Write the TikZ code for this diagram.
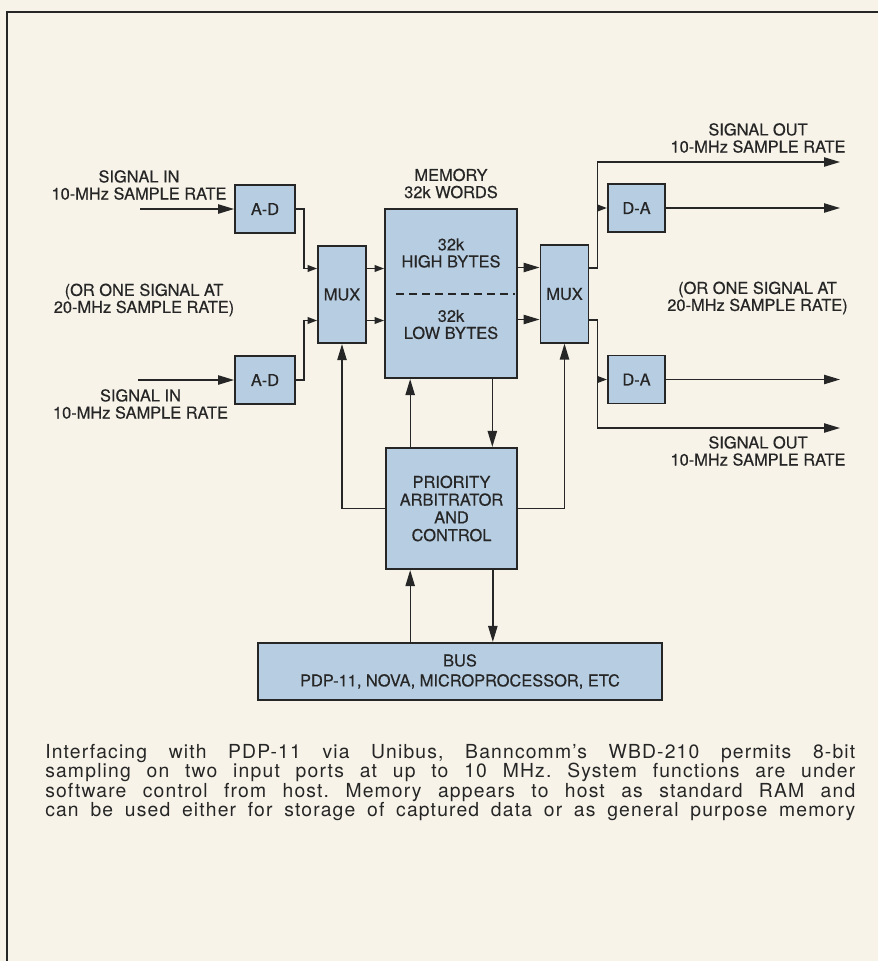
\documentclass[tikz,border=0pt]{standalone}
\usepackage{fontspec}
\setmainfont{TeX Gyre Heros}
\newfontfamily\labfont[FakeBold=0.4]{TeX Gyre Heros}
\newfontfamily\capfont[LetterSpace=6]{TeX Gyre Heros}
\usetikzlibrary{arrows.meta, positioning}
\definecolor{paper}{RGB}{247,243,233}
\definecolor{boxblue}{RGB}{183,205,226}
\definecolor{ink}{RGB}{38,38,38}

\begin{document}
\begin{tikzpicture}[x=0.75pt, y=-0.75pt,
		base/.style = {draw=ink, fill=boxblue, line width=1.4pt, inner sep=0pt, align=center, text=ink, font=\labfont\fontsize{12.3}{13.3}\selectfont} ,
		blk/.style = {rectangle, base},
		lbl/.style = {align=center, inner sep=0pt, text=ink, font=\labfont\fontsize{12.3}{12.8}\selectfont},
		wire/.style = {draw=ink, line width=1pt},
		big/.style = {wire, -{Triangle[length=12pt, width=7pt]}},
		small/.style = {wire, -{Triangle[length=7pt, width=5pt]}}
		]
		\fill[paper] (0,0) rectangle (878,961);
		\useasboundingbox (0,0) rectangle (878,961);
		\draw[ink, line width=2pt] (878,12) -- (7,12) -- (7,961);

		% converters, multiplexers and memory
		\node (AD1) [blk, minimum width=45pt, minimum height=36pt] at (265,209) {A-D};
		\node (AD2) [blk, minimum width=45pt, minimum height=36pt] at (265,380) {A-D};
		\node (MUX1) [blk, minimum width=36pt, minimum height=73pt] at (342,294.5) {MUX};
		\node (MEM) [blk, minimum width=99pt, minimum height=127pt] at (451,293.5) {};
		\node (MUX2) [blk, minimum width=36pt, minimum height=73pt] at (564.5,294) {MUX};
		\node (DA1) [blk, minimum width=43pt, minimum height=36pt] at (636.5,208) {D-A};
		\node (DA2) [blk, minimum width=43pt, minimum height=36pt] at (636.5,379.5) {D-A};
		\node (PRI) [blk, minimum width=98pt, minimum height=91pt] at (451.5,508.5) {PRIORITY\\ARBITRATOR\\AND\\CONTROL};
		\node (BUS) [blk, minimum width=303pt, minimum height=43pt, font=\labfont\fontsize{12.3}{15}\selectfont] at (460,671.5) {BUS\\PDP-11, NOVA, MICROPROCESSOR, ETC};

		% texts
		\node (HI) [lbl] at (451,253) {32k\\HIGH BYTES};
		\node (LO) [lbl] at (451,324.5) {32k\\LOW BYTES};
		\node (MEML) [lbl] at (451,183.5) {MEMORY\\32k WORDS};
		\node (IN1) [lbl] at (139,185) {SIGNAL IN\\10-MHz SAMPLE RATE};
		\node (ORL) [lbl] at (144,300) {(OR ONE SIGNAL AT\\20-MHz SAMPLE RATE)};
		\node (IN2) [lbl] at (140.5,404) {SIGNAL IN\\10-MHz SAMPLE RATE};
		\node (OUT1) [lbl] at (758,138) {SIGNAL OUT\\10-MHz SAMPLE RATE};
		\node (ORR) [lbl] at (757.5,298) {(OR ONE SIGNAL AT\\20-MHz SAMPLE RATE)};
		\node (OUT2) [lbl] at (758,451) {SIGNAL OUT\\10-MHz SAMPLE RATE};

		\draw[ink, line width=1.5pt, dash pattern=on 6pt off 3.75pt] ([xshift=9pt]MEM.west) -- ([xshift=-2pt]MEM.east);

		\coordinate (A) at (140,209);
		\coordinate (B) at (138,380);
		\coordinate (C) at (840,162);
		\coordinate (D) at (840,428);

		% inputs
		\draw[big] (A) -- (AD1.west);
		\draw[big] (B) -- (AD2.west);
		\draw[small] (AD1.east) -- ++(8,0) |- ([yshift=19.5pt]MUX1.west);
		\draw[small] (AD2.east) -- ++(8,0) |- ([yshift=-19.5pt]MUX1.west);
		\draw[small] ([yshift=19.5pt]MUX1.east) -- ([yshift=19.5pt]MUX1.east -| MEM.west);
		\draw[small] ([yshift=-19.5pt]MUX1.east) -- ([yshift=-19.5pt]MUX1.east -| MEM.west);

		% outputs
		\draw[big] ([yshift=19.5pt]MEM.east) -- ([yshift=19.5pt]MEM.east -| MUX2.west);
		\draw[big] ([yshift=-19.5pt]MEM.east) -- ([yshift=-19.5pt]MEM.east -| MUX2.west);
		\draw[big] ([yshift=19.5pt]MUX2.east) -- ++(8,0) coordinate (J1) |- (C);
		\draw[big] ([yshift=-19.5pt]MUX2.east) -- ++(8,0) coordinate (J2) |- (D);
		\draw[small] (J1 |- DA1.west) -- (DA1.west);
		\draw[small] (J2 |- DA2.west) -- (DA2.west);
		\draw[big] (DA1.east) -- (DA1.east -| C);
		\draw[big] (DA2.east) -- (DA2.east -| D);

		% control
		\draw[big] (PRI.west) -| (MUX1.south);
		\draw[big] (PRI.east) -| (MUX2.south);
		\draw[big] ([xshift=-31pt]PRI.north) -- ([xshift=-31pt]PRI.north |- MEM.south);
		\draw[big] ([xshift=31pt]MEM.south) -- ([xshift=31pt]MEM.south |- PRI.north);
		\draw[big] ([xshift=-31pt]PRI.south |- BUS.north) -- ([xshift=-31pt]PRI.south);
		\draw[big] ([xshift=31pt]PRI.south) -- ([xshift=31pt]PRI.south |- BUS.north);

		\node (CAP) [anchor=north west, inner sep=0pt, text width=607.5pt, align=justify, text=ink, font=\capfont\fontsize{14.5}{14.6}\selectfont] at (45,744) {\frenchspacing \parfillskip=0pt \rightskip=0pt \tolerance=9999
			Interfacing with PDP-11 via Unibus, Banncomm’s WBD-210 permits 8-bit\linebreak
			sampling on two input ports at up to 10 MHz. System functions are under\linebreak
			software control from host. Memory appears to host as standard RAM and\linebreak
			can be used either for storage of captured data or as general purpose memory\par};
	\end{tikzpicture}
\end{document}
